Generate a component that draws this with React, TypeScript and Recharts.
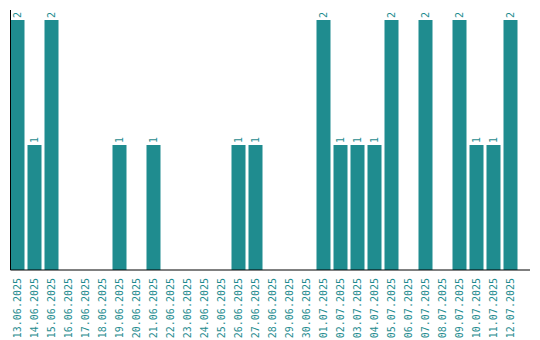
import { BarChart, Bar, XAxis, YAxis, LabelList } from "recharts";

const dates = [
  "13.06.2025", "14.06.2025", "15.06.2025", "16.06.2025", "17.06.2025", "18.06.2025",
  "19.06.2025", "20.06.2025", "21.06.2025", "22.06.2025", "23.06.2025", "24.06.2025",
  "25.06.2025", "26.06.2025", "27.06.2025", "28.06.2025", "29.06.2025", "30.06.2025",
  "01.07.2025", "02.07.2025", "03.07.2025", "04.07.2025", "05.07.2025", "06.07.2025",
  "07.07.2025", "08.07.2025", "09.07.2025", "10.07.2025", "11.07.2025", "12.07.2025"
];

const counts = [
  2, 1, 2, 0, 0, 0,
  1, 0, 1, 0, 0, 0,
  0, 1, 1, 0, 0, 0,
  2, 1, 1, 1, 2, 0,
  2, 0, 2, 1, 1, 2
];

const data = dates.map((d, i) => ({ date: d, count: counts[i] }));

const TEAL = "#1f8c8f";
const FONT = "'DejaVu Sans Mono', monospace";

const DateTick = (props: any) => {
  const { x, y, payload } = props;
  return (
    <g transform={`translate(${x},${y})`}>
      <text
        transform="rotate(-90)"
        x={0}
        y={0}
        dy="0.35em"
        textAnchor="end"
        fill={TEAL}
        fontSize={10}
        fontFamily={FONT}
      >
        {payload.value}
      </text>
    </g>
  );
};

const TopLabel = (props: any) => {
  const { x, y, width, value } = props;
  if (!value) return null;
  const cx = x + width / 2;
  const ty = y - 2;
  return (
    <text
      transform={`rotate(-90, ${cx}, ${ty})`}
      x={cx}
      y={ty}
      dy="0.35em"
      textAnchor="start"
      fill={TEAL}
      fontSize={10}
      fontFamily={FONT}
    >
      {value}
    </text>
  );
};

const App = () => {
  return (
    <div style={{ position: "absolute", left: 0, top: 0 }}>
      <BarChart
        width={540}
        height={340}
        data={data}
        margin={{ top: 10, right: 10, bottom: 0, left: 9.5 }}
        barCategoryGap={3}
      >
        <XAxis
          dataKey="date"
          interval={0}
          height={70}
          tickLine={false}
          axisLine={{ stroke: "#000" }}
          padding={{ left: -2, right: 11.5 }}
          tick={<DateTick />}
        />
        <YAxis
          width={1}
          domain={[0, 2]}
          tick={false}
          tickLine={false}
          axisLine={{ stroke: "#000" }}
          padding={{ top: 10, bottom: 0 }}
        />
        <Bar dataKey="count" fill={TEAL} barSize={14} isAnimationActive={false}>
          <LabelList dataKey="count" content={<TopLabel />} />
        </Bar>
      </BarChart>
    </div>
  );
};

export default App;
